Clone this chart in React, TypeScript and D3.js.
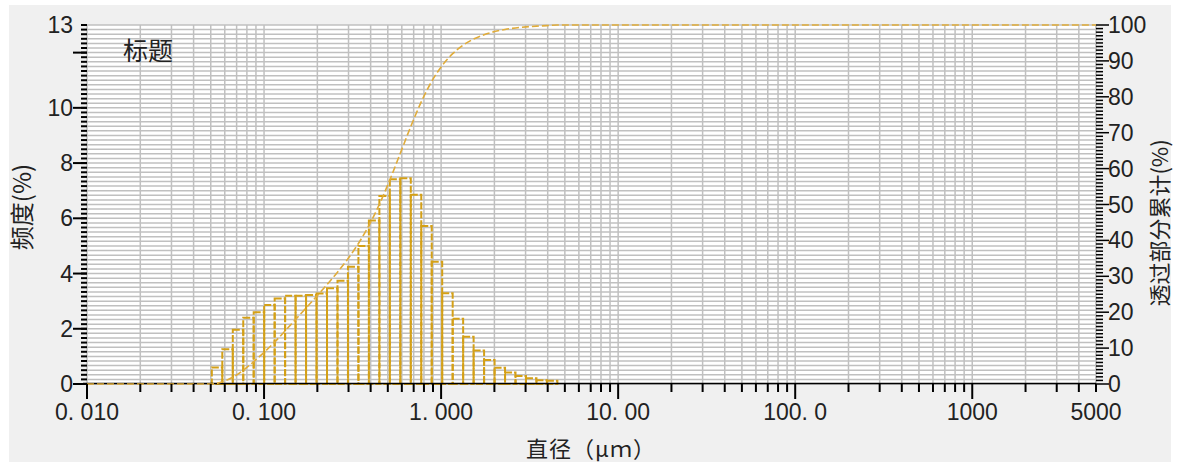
import * as d3 from "d3";

// particle size bins (µm), lower edge of first bin through upper edge of last bin
const binEdges = [
  0.0507, 0.0581, 0.0666, 0.0763, 0.0874, 0.1002, 0.1148, 0.1315, 0.1507, 0.1727,
  0.1979, 0.2268, 0.2599, 0.2978, 0.3412, 0.391, 0.4481, 0.5135, 0.5884, 0.6742,
  0.7726, 0.8853, 1.0145, 1.1625, 1.3321, 1.5265, 1.7492, 2.0044, 2.2969, 2.632,
  3.016, 3.456, 3.96, 4.538,
];

// 频度 (%) per bin
const frequency = [
  0.6, 1.26, 1.96, 2.4, 2.6, 2.86, 3.1, 3.2, 3.2, 3.22, 3.28, 3.47, 3.74, 4.25, 5.0,
  5.92, 6.81, 7.41, 7.45, 6.85, 5.72, 4.43, 3.29, 2.36, 1.71, 1.21, 0.87, 0.59, 0.42,
  0.29, 0.21, 0.14, 0.12,
];

// 透过部分累计 (%) at each bin edge
const cumulative = [
  0, 0.6, 1.86, 3.82, 6.22, 8.82, 11.68, 14.78, 17.98, 21.18, 24.4, 27.68, 31.15,
  34.89, 39.14, 44.14, 50.06, 56.87, 64.28, 71.73, 78.58, 84.3, 88.73, 92.02, 94.38,
  96.09, 97.3, 98.17, 98.76, 99.18, 99.47, 99.68, 99.82, 100,
];

const xTickValues = [0.01, 0.1, 1, 10, 100, 1000, 5000];
const xTickLabels = ["0. 010", "0. 100", "1. 000", "10. 00", "100. 0", "1000", "5000"];
const leftTickValues = [0, 2, 4, 6, 8, 10, 13];
const leftTickLabels = ["0", "2", "4", "6", "8", "10", "13"];
const rightTickValues = [0, 10, 20, 30, 40, 50, 60, 70, 80, 90, 100];

const W = 1177;
const H = 463;
const m = { left: 87, right: 1096, top: 25, bottom: 384 };

const BAR = "#D4A017";
const CURVE = "#E0AC3A";
const NUM_FONT = "'Liberation Sans', Arial, sans-serif";
const CJK_FONT = "'Noto Sans CJK SC', sans-serif";

export default function App() {
  const x = d3.scaleLog().domain([0.01, 5000]).range([m.left, m.right]);
  const yL = d3.scaleLinear().domain([0, 13]).range([m.bottom, m.top]);
  const yR = d3.scaleLinear().domain([0, 100]).range([m.bottom, m.top]);

  // log grid: 1..9 per decade
  const xGrid: number[] = [];
  for (let e = -2; e <= 3; e++) {
    for (let k = 1; k <= 9; k++) {
      const v = k * Math.pow(10, e);
      if (v <= 5000) xGrid.push(v);
    }
  }
  const xMajor = [0.01, 0.1, 1, 10, 100, 1000];

  const leftMinor = d3.range(0, 79).map((k) => k / 6);
  const leftMajor = [0, 2, 4, 6, 8, 10, 12];
  const rightMinor = d3.range(0, 101);

  const curvePts: [number, number][] = [[0.01, 0]];
  binEdges.forEach((d, i) => curvePts.push([d, cumulative[i]]));
  curvePts.push([5000, 100]);
  const line = d3
    .line<[number, number]>()
    .x((d) => x(d[0]))
    .y((d) => yR(d[1]))
    .curve(d3.curveMonotoneX);

  return (
    <svg width={W} height={H} style={{ position: "absolute", left: 0, top: 0 }}>
      <rect x={9} y={5} width={1162} height={457} fill="#f0f0f0" />
      <rect x={m.left} y={m.top} width={m.right - m.left} height={m.bottom - m.top} fill="#fff" />

      {/* grid */}
      <g stroke="#c0c0c0" strokeWidth={1.5}>
        {leftMinor.map((v, i) => (
          <line key={"h" + i} x1={m.left} x2={m.right} y1={yL(v)} y2={yL(v)} />
        ))}
        {xGrid.concat([5000]).map((v, i) => (
          <line key={"v" + i} x1={x(v)} x2={x(v)} y1={m.top} y2={m.bottom} />
        ))}
      </g>

      {/* histogram */}
      <g fill="none" stroke={BAR} strokeWidth={2} strokeDasharray="7,2">
        {frequency.map((f, i) => (
          <rect
            key={i}
            x={x(binEdges[i])}
            y={yL(f)}
            width={x(binEdges[i + 1]) - x(binEdges[i])}
            height={yL(0) - yL(f)}
          />
        ))}
      </g>

      {/* bottom axis */}
      <line x1={m.left - 4} x2={m.right} y1={m.bottom - 0.5} y2={m.bottom - 0.5} stroke="#000" strokeWidth={1.5} />
      <path d={line(curvePts) || ""} fill="none" stroke={CURVE} strokeWidth={1.6} strokeDasharray="7,3" />
      <g stroke="#000" strokeWidth={2}>
        {xGrid.map((v, i) => (
          <line
            key={"xt" + i}
            x1={x(v)}
            x2={x(v)}
            y1={m.bottom}
            y2={m.bottom + (xMajor.includes(v) ? 15 : 8)}
          />
        ))}
        {leftMinor.map((v, i) => (
          <line key={"lt" + i} x1={m.left - 6} x2={m.left} y1={yL(v)} y2={yL(v)} />
        ))}
        {leftMajor.map((v, i) => (
          <line key={"lm" + i} x1={m.left - 14} x2={m.left} y1={yL(v)} y2={yL(v)} />
        ))}
        {rightMinor.map((v, i) => (
          <line
            key={"rt" + i}
            x1={m.right}
            x2={m.right + (v % 10 === 0 ? 13 : 7)}
            y1={yR(v)}
            y2={yR(v)}
            strokeWidth={1.5}
          />
        ))}
      </g>

      {/* tick labels */}
      <g fontFamily={NUM_FONT} fontSize={23} fill="#222">
        {xTickValues.map((v, i) => (
          <text key={"xl" + i} x={x(v)} y={420} textAnchor="middle">
            {xTickLabels[i]}
          </text>
        ))}
        {leftTickValues.map((v, i) => (
          <text key={"ll" + i} x={73} y={yL(v)} dy="0.35em" textAnchor="end">
            {leftTickLabels[i]}
          </text>
        ))}
        {rightTickValues.map((v, i) => (
          <text key={"rl" + i} x={1108} y={yR(v)} dy="0.35em" textAnchor="start">
            {v}
          </text>
        ))}
      </g>

      {/* titles */}
      <g fontFamily={CJK_FONT} fill="#222">
        <text x={123} y={60} fontSize={25}>
          标题
        </text>
        <text x={591} y={457} fontSize={22} textAnchor="middle" letterSpacing={1}>
          直径（μｍ）
        </text>
        <text transform="translate(31,207) rotate(-90)" fontSize={24} textAnchor="middle">
          频度(%)
        </text>
        <text transform="translate(1168,223) rotate(-90)" fontSize={22} textAnchor="middle">
          透过部分累计(%)
        </text>
      </g>
    </svg>
  );
}
